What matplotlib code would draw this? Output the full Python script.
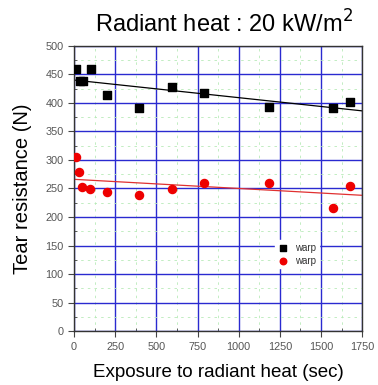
import matplotlib
matplotlib.use("Agg")
import matplotlib.pyplot as plt
from matplotlib.ticker import MultipleLocator

# Data
warp_black_x = [10, 36, 57, 103, 202, 395, 594, 790, 1183, 1576, 1677]
warp_black_y = [460, 439, 439, 459, 414, 391, 427, 417, 393, 391, 401]
warp_red_x = [10, 30, 50, 99, 202, 395, 594, 790, 1183, 1576, 1677]
warp_red_y = [306, 278, 253, 249, 243, 238, 249, 259, 259, 215, 254]
fit_x = [0, 1750]
fit_black_y = [440, 386]
fit_red_y = [266, 238]

plt.rcParams['font.family'] = ['Liberation Sans', 'DejaVu Sans']

fig = plt.figure(figsize=(3.78, 3.85), dpi=100)
ax = fig.add_axes([0.196, 0.140, 0.762, 0.741])

ax.set_xlim(0, 1750)
ax.set_ylim(0, 500)
ax.xaxis.set_major_locator(MultipleLocator(250))
ax.xaxis.set_minor_locator(MultipleLocator(125))
ax.yaxis.set_major_locator(MultipleLocator(50))
ax.yaxis.set_minor_locator(MultipleLocator(25))

ax.grid(which='major', color='#2a2ad0', linewidth=1.0, linestyle='-', zorder=0)
ax.grid(which='minor', color='#b8eab8', linewidth=0.6, linestyle=(0, (3, 5)), zorder=0)
ax.set_axisbelow(True)

ax.plot(fit_x, fit_black_y, color='black', linewidth=0.9, zorder=2)
ax.plot(fit_x, fit_red_y, color='#e03030', linewidth=0.9, zorder=2)
ax.scatter(warp_black_x, warp_black_y, marker='s', s=30, color='black', zorder=3, label='warp')
ax.scatter(warp_red_x, warp_red_y, marker='o', s=34, color='#ee0000', zorder=3, label='warp')

ax.tick_params(which='major', direction='out', length=4, width=0.8, labelsize=7.8,
               labelcolor='#555555', color='#444444')
ax.tick_params(which='minor', direction='in', length=2.5, width=0.6, color='#444444')
for s in ax.spines.values():
    s.set_color('#333333')
    s.set_linewidth(1.0)

ax.set_xlabel('Exposure to radiant heat (sec)', fontsize=13.5, labelpad=9)
ax.set_ylabel('Tear resistance (N)', fontsize=14.5, labelpad=10)
fig.text(0.593, 0.937, 'Radiant heat : 20 kW/m$^2$', fontsize=17, ha='center', va='center')

leg = ax.legend(loc='center left', bbox_to_anchor=(0.68, 0.27), frameon=True, fontsize=7,
                handletextpad=0.8, borderpad=0.3, labelspacing=0.3, markerscale=0.8,
                handlelength=1.0, framealpha=1.0, edgecolor='white', fancybox=False)
for t in leg.get_texts():
    t.set_color('#333333')

fig.savefig('out.png', dpi=100)
